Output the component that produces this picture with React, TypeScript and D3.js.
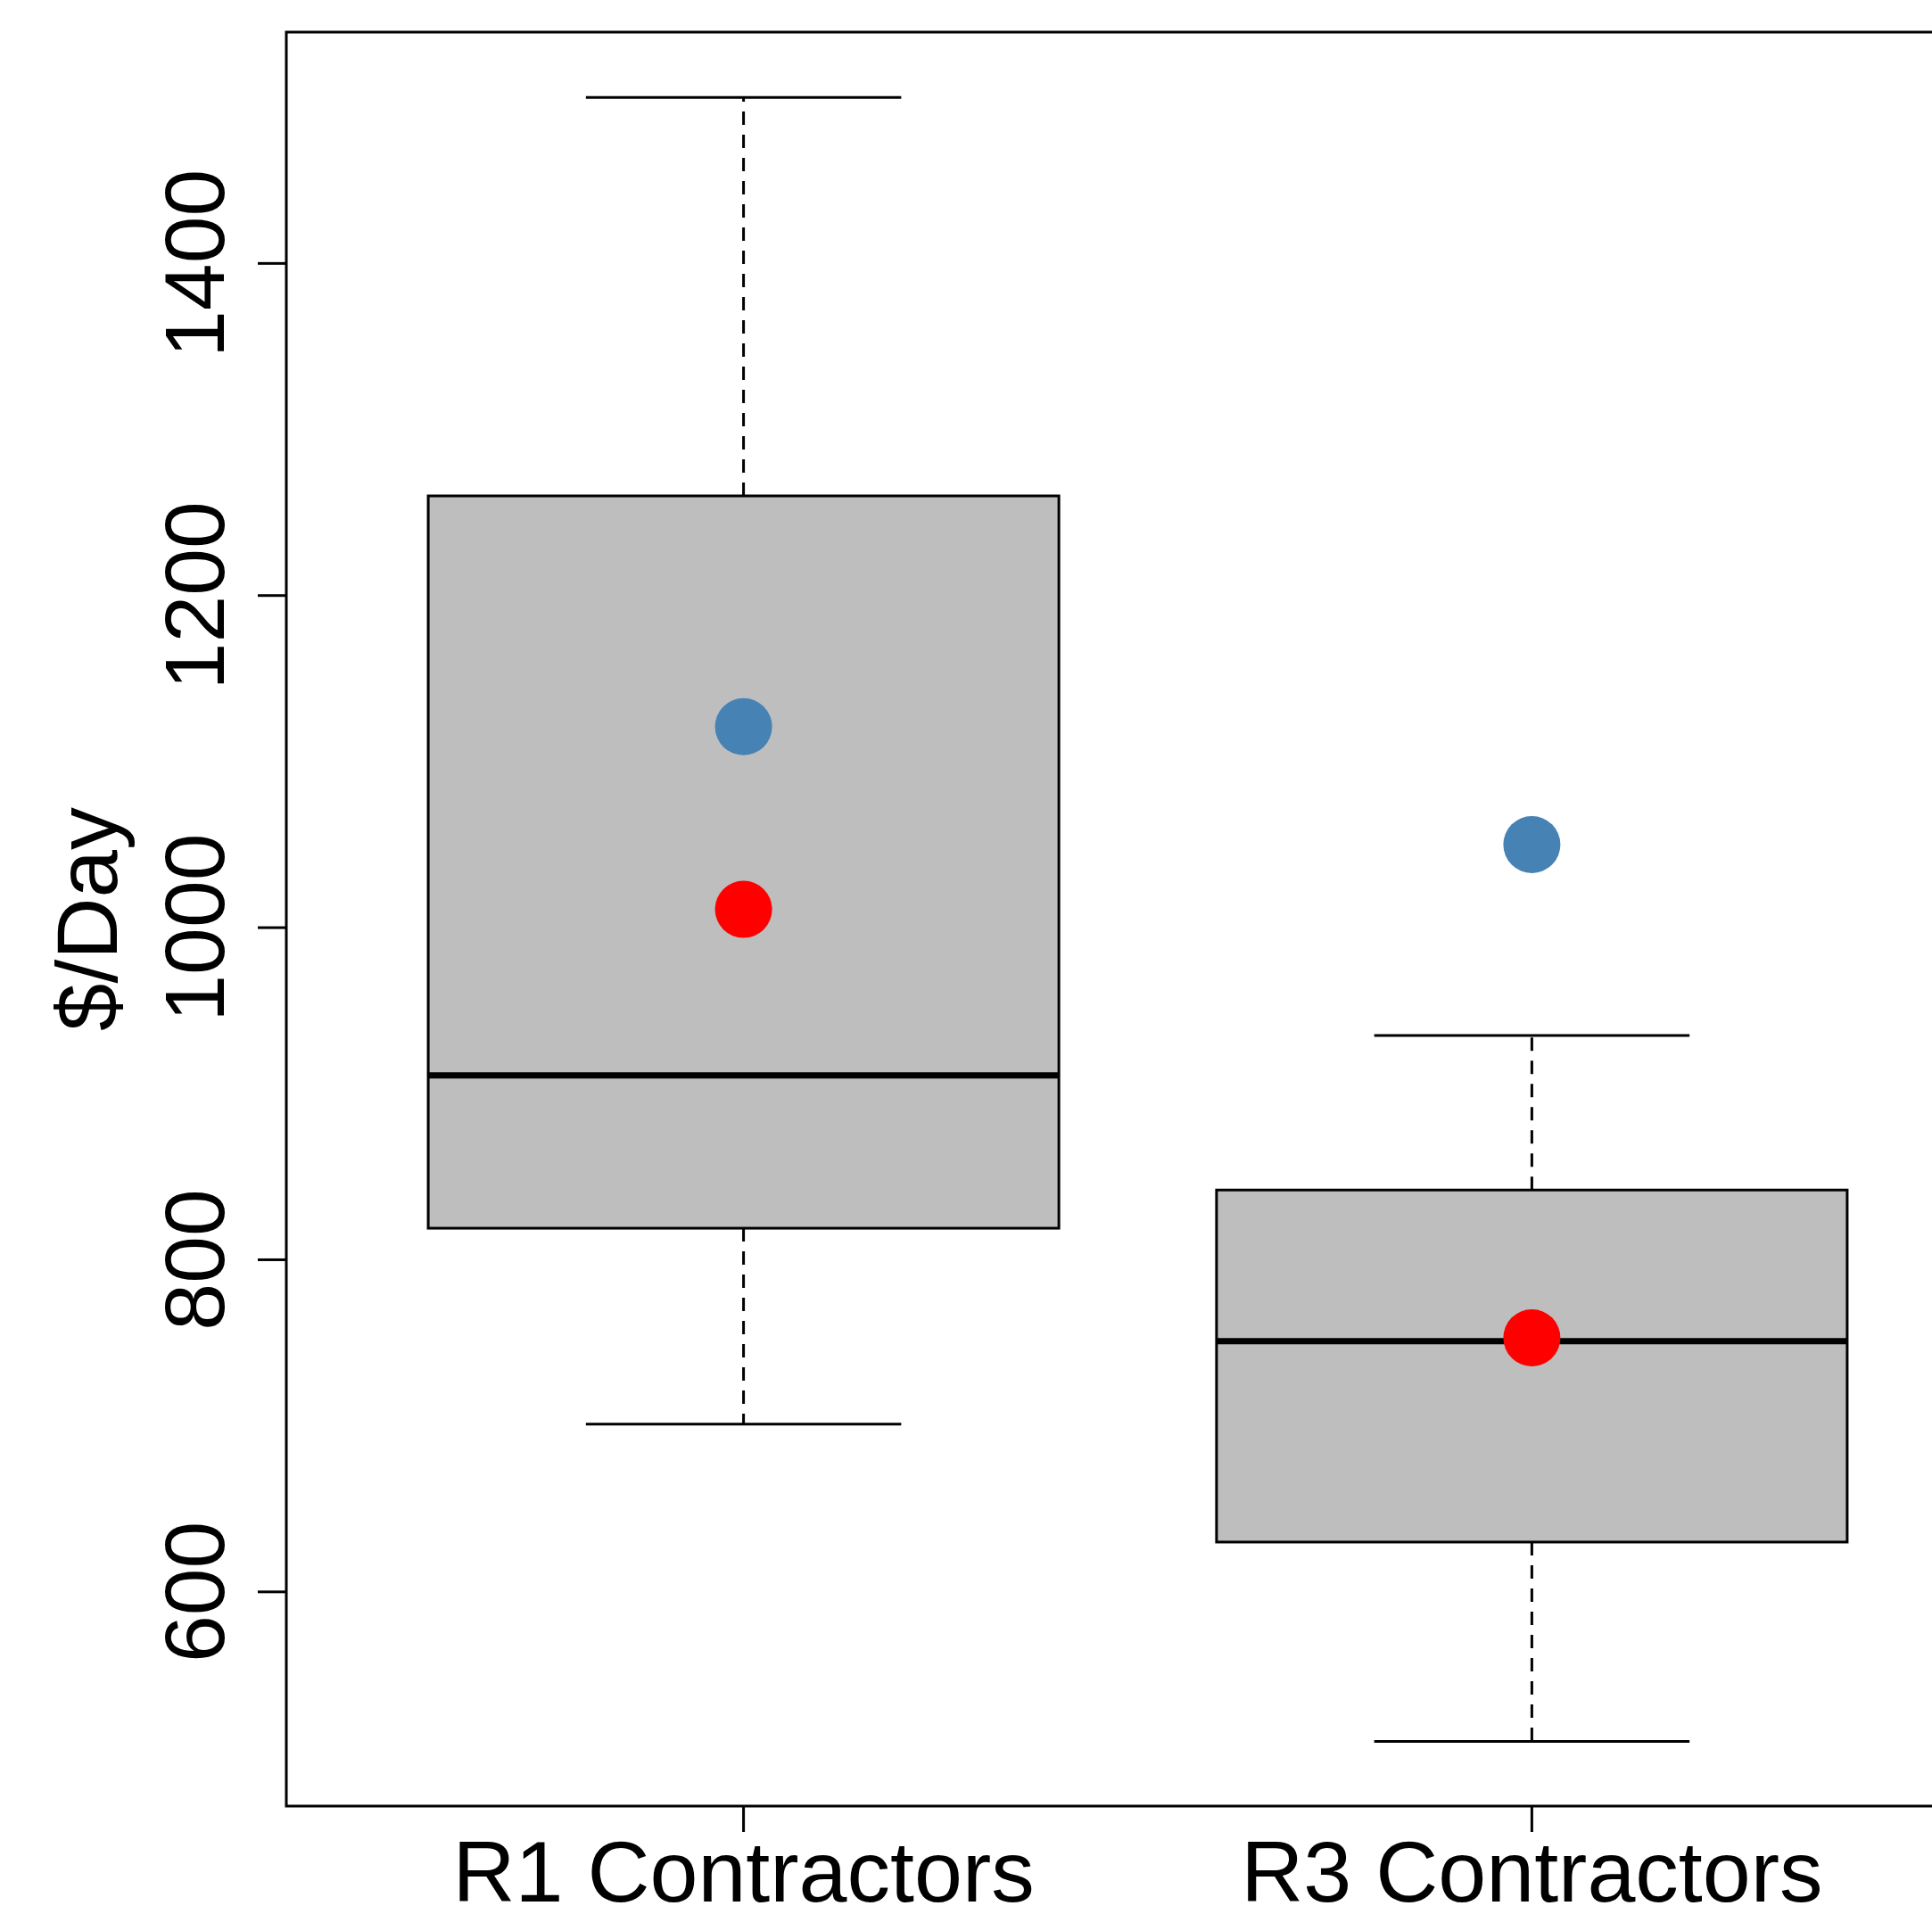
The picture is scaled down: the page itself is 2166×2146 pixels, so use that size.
import React from "react";
import * as d3 from "d3";

const categories = ["R1 Contractors", "R3 Contractors"];
const positions = [1, 2];
const lowerWhisker = [701, 510];
const q1 = [819, 630];
const median = [911, 751];
const q3 = [1260, 842];
const upperWhisker = [1500, 935];
const blueMean = [1121, 1050];
const redPoint = [1011, 753];
const yTicks = [600, 800, 1000, 1200, 1400];
const yLabel = "$/Day";

const W = 2166;
const H = 2146;
const FRAME = { left: 321, top: 36, bottom: 2025, right: 2230 };
const FONT = "'Liberation Sans', Arial, sans-serif";

export default function App() {
  const x = d3.scaleLinear().domain([0.42, 2.58]).range([FRAME.left, FRAME.right]);
  const y = d3.scaleLinear().domain([471, 1539.3]).range([FRAME.bottom, FRAME.top]);
  const boxHalf = 0.4;
  const capHalf = 0.2;
  const plotMidY = (FRAME.top + FRAME.bottom) / 2;

  return (
    <svg
      width={W}
      height={H}
      style={{ position: "absolute", left: 0, top: 0, background: "#fff" }}
    >
      <rect x={0} y={0} width={W} height={H} fill="#fff" />
      {positions.map((p, i) => {
        const cx = x(p);
        return (
          <g key={categories[i]}>
            {/* whiskers */}
            <line x1={cx} x2={cx} y1={y(q3[i])} y2={y(upperWhisker[i])} stroke="#000" strokeWidth={3} strokeDasharray="15,11" />
            <line x1={cx} x2={cx} y1={y(q1[i])} y2={y(lowerWhisker[i])} stroke="#000" strokeWidth={3} strokeDasharray="15,11" />
            <line x1={x(p - capHalf)} x2={x(p + capHalf)} y1={y(upperWhisker[i])} y2={y(upperWhisker[i])} stroke="#000" strokeWidth={3} />
            <line x1={x(p - capHalf)} x2={x(p + capHalf)} y1={y(lowerWhisker[i])} y2={y(lowerWhisker[i])} stroke="#000" strokeWidth={3} />
            {/* box */}
            <rect
              x={x(p - boxHalf)}
              y={y(q3[i])}
              width={x(p + boxHalf) - x(p - boxHalf)}
              height={y(q1[i]) - y(q3[i])}
              fill="#BEBEBE"
              stroke="#000"
              strokeWidth={3}
            />
            <line x1={x(p - boxHalf)} x2={x(p + boxHalf)} y1={y(median[i])} y2={y(median[i])} stroke="#000" strokeWidth={7} />
            <circle cx={cx} cy={y(blueMean[i])} r={32} fill="#4682B4" />
            <circle cx={cx} cy={y(redPoint[i])} r={32} fill="#FF0000" />
          </g>
        );
      })}
      {/* frame (right side off canvas) */}
      <path
        d={`M${FRAME.right},${FRAME.top}H${FRAME.left}V${FRAME.bottom}H${FRAME.right}`}
        fill="none"
        stroke="#000"
        strokeWidth={3}
      />
      {/* y ticks */}
      {yTicks.map((t) => (
        <g key={t}>
          <line x1={FRAME.left - 32} x2={FRAME.left} y1={y(t)} y2={y(t)} stroke="#000" strokeWidth={3} />
          <text
            transform={`translate(251,${y(t)}) rotate(-90)`}
            textAnchor="middle"
            fontFamily={FONT}
            fontSize={95}
            fill="#000"
          >
            {t}
          </text>
        </g>
      ))}
      {/* x ticks */}
      {positions.map((p, i) => (
        <g key={categories[i]}>
          <line x1={x(p)} x2={x(p)} y1={FRAME.bottom} y2={FRAME.bottom + 29} stroke="#000" strokeWidth={3} />
          <text x={x(p)} y={2132} textAnchor="middle" fontFamily={FONT} fontSize={97} fill="#000">
            {categories[i]}
          </text>
        </g>
      ))}
      <text
        transform={`translate(131,${plotMidY}) rotate(-90)`}
        textAnchor="middle"
        fontFamily={FONT}
        fontSize={96}
        fill="#000"
      >
        {yLabel}
      </text>
    </svg>
  );
}
